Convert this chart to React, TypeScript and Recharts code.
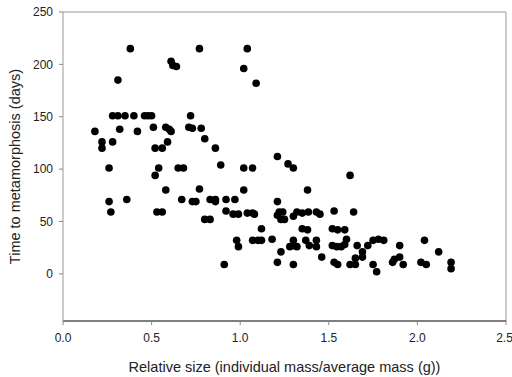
import React from 'react';
import { ScatterChart, Scatter, XAxis, YAxis, ReferenceLine } from 'recharts';

// relative size (x) and days to metamorphosis (y)
const relSize = [
  0.18, 0.22, 0.22, 0.26, 0.26, 0.27, 0.28, 0.28, 0.31, 0.31, 0.32, 0.35, 0.36, 0.38, 0.40, 0.42,
  0.46, 0.48, 0.50, 0.51, 0.52, 0.52, 0.54, 0.53, 0.56, 0.56, 0.58, 0.58, 0.59, 0.60, 0.61, 0.61,
  0.62, 0.64, 0.65, 0.68, 0.67, 0.72, 0.71, 0.73, 0.73, 0.75, 0.77, 0.78, 0.77, 0.80, 0.80, 0.83,
  0.83, 0.86, 0.86, 0.86, 0.89, 0.91, 0.92, 0.92, 0.97, 0.96, 0.99, 0.98, 0.99, 1.02, 1.04, 1.02,
  1.02, 1.04, 1.07, 1.08, 1.07, 1.09, 1.07, 1.10, 1.12, 1.12, 1.18, 1.21, 1.21, 1.21, 1.22, 1.24,
  1.23, 1.25, 1.21, 1.23, 1.27, 1.30, 1.28, 1.30, 1.30, 1.30, 1.30, 1.32, 1.35, 1.32, 1.35, 1.38,
  1.38, 1.385, 1.37, 1.39, 1.43, 1.45, 1.43, 1.43, 1.46, 1.53, 1.52, 1.55, 1.59, 1.52, 1.545, 1.57,
  1.59, 1.53, 1.55, 1.60, 1.62, 1.64, 1.62, 1.65, 1.65, 1.66, 1.69, 1.69, 1.72, 1.75, 1.78, 1.81,
  1.75, 1.77, 1.87, 1.86, 1.90, 1.90, 1.92, 2.02, 2.05, 2.04, 2.12, 2.19, 2.19,
];
const days = [
  136, 126, 120, 101, 69, 59, 126, 151, 151, 185, 138, 151, 71, 215, 151, 136,
  151, 151, 151, 140, 120, 94, 101, 59, 59, 120, 80, 140, 126, 138, 136, 203,
  199, 198, 101, 101, 71, 151, 140, 139, 69, 69, 215, 139, 81, 129, 52, 52,
  71, 71, 120, 69, 104, 9, 60, 71, 71, 57, 57, 32, 26, 196, 215, 101,
  80, 58, 58, 57, 101, 182, 32, 32, 32, 43, 33, 112, 69, 56, 59, 59,
  52, 52, 11, 21, 105, 101, 26, 27, 32, 9, 55, 59, 58, 26, 43, 42,
  80, 59, 32, 27, 59, 57, 32, 26, 16, 60, 43, 42, 42, 27, 26, 26,
  28, 11, 9, 33, 94, 59, 9, 9, 15, 27, 21, 16, 27, 32, 33, 32,
  9, 2, 14, 11, 27, 16, 9, 11, 9, 32, 21, 11, 5,
];

const xTicks = [0, 0.5, 1, 1.5, 2, 2.5];
const yTicks = [0, 50, 100, 150, 200, 250];

const points = relSize.map((x, i) => ({ x, y: days[i] }));

const font = 'Arial, "Liberation Sans", sans-serif';
const tickStyle = { fill: '#222', fontSize: 12, fontFamily: font };
const labelStyle = { fill: '#222', fontSize: 14.5, fontFamily: font };

export default function App() {
  return (
    <div style={{ position: 'absolute', left: 0, top: 0, background: '#fff' }}>
      <ScatterChart width={512} height={377} margin={{ top: 12, right: 6, left: 0, bottom: 0 }}>
        <XAxis
          type="number"
          dataKey="x"
          domain={[0, 2.5]}
          ticks={xTicks}
          tickFormatter={(v: number) => v.toFixed(1)}
          tick={tickStyle}
          tickSize={4}
          tickMargin={8}
          height={56}
          axisLine={{ stroke: '#000' }}
          tickLine={{ stroke: '#888' }}
          label={{
            value: 'Relative size (individual mass/average mass (g))',
            position: 'insideBottom',
            offset: 5,
            style: labelStyle,
          }}
        />
        <YAxis
          type="number"
          dataKey="y"
          domain={[-45, 250]}
          ticks={yTicks}
          tick={tickStyle}
          tickSize={4}
          tickMargin={6}
          width={63}
          axisLine={{ stroke: '#999' }}
          tickLine={{ stroke: '#888' }}
          label={{
            value: 'Time to metamorphosis (days)',
            angle: -90,
            position: 'insideLeft',
            offset: 15,
            style: { ...labelStyle, textAnchor: 'middle' },
          }}
        />
        <ReferenceLine y={250} stroke="#999" />
        <ReferenceLine x={2.5} stroke="#999" />
        <Scatter
          data={points}
          isAnimationActive={false}
          shape={(p: any) => <circle cx={p.cx} cy={p.cy} r={3.8} fill="#000" />}
        />
      </ScatterChart>
    </div>
  );
}
